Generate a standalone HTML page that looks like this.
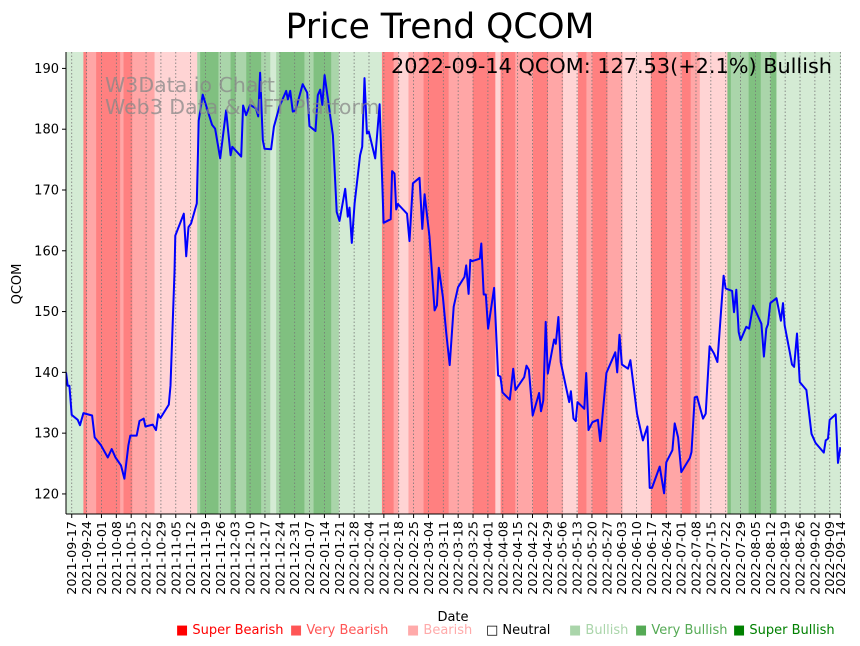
<!DOCTYPE html>
<html><head><meta charset="utf-8"><style>
body{margin:0;background:#fff;font-family:"DejaVu Sans","Liberation Sans",sans-serif;}
#wrap{position:relative;width:860px;height:646px;overflow:hidden;}
svg{position:absolute;left:0;top:0;font-family:"DejaVu Sans","Liberation Sans",sans-serif;}
</style></head><body>
<div id="wrap">
<svg id="chart" width="860" height="646"></svg>
</div>
<script>
// Sentiment bands: [startDay, endDay, level]
const bandStart=[-3,5.5,7.1,11.5,22.8,24.4,28.5,39,59.1,60.5,69.1,74.8,77.2,82.2,89.2,90.8,93.5,96.3,97.9,109.6,113.9,118,122.2,125.8,146.1,151.6,153.9,158.6,165.7,177.5,188.9,199.5,202,208.9,217.2,224.3,231.4,238.4,242.4,245.2,252.3,259.4,272.7,280.4,287.4,291.5,295.8,308.8,310.4,318.8,324.5,329.1,331.9];
const bandEnd=[5.5,7.1,11.5,22.8,24.4,28.5,39,59.1,60.5,69.1,74.8,77.2,82.2,89.2,90.8,93.5,96.3,97.9,109.6,113.9,118,122.2,125.8,146.1,151.6,153.9,158.6,165.7,177.5,188.9,199.5,202,208.9,217.2,224.3,231.4,238.4,242.4,245.2,252.3,259.4,272.7,280.4,287.4,291.5,295.8,308.8,310.4,318.8,324.5,329.1,331.9,363];
const bandLevel=[1,-3,-2,-3,-2,-3,-2,-1,2,3,2,3,2,3,2,2,1,2,3,2,3,3,2,1,-3,-2,-1,-2,-3,-2,-3,-1,-3,-2,-3,-2,-1,-3,-2,-3,-2,-1,-3,-2,-3,-2,-1,3,2,3,2,3,1];
// Price series: days since 2021-09-17 and close price
const priceDays=[-2.7,-1.9,-1.1,0,2.8,3.9,5.5,9.6,10.8,13.8,17,18.8,20.6,23.2,24.8,26.7,27.6,30.6,31.9,33.9,34.7,38.2,39.7,40.7,41.8,45.7,46.5,48.4,48.8,52.8,53.9,55,56.2,58.9,59.8,61.7,66.1,67.5,69.9,72.7,74.8,75.6,79.8,80.7,82.1,84,86.8,87.8,88.7,90,90.8,93.9,95.2,97.8,101,101.8,102.9,104.1,105.4,108.8,110.9,112,114.8,115.9,117,118,119.1,123,124.8,126.1,128.8,130,130.8,131.9,133.2,135.8,136.8,137.9,139,139.9,142.9,145,146.9,150.2,150.9,152,152.8,153.6,157.9,159.1,160.7,163.8,165.1,166.2,168.5,170.9,172,172.9,174.8,176.4,178,179.9,181.9,185,185.8,186.9,187.7,188.7,192.2,192.9,194,195,196.1,198.9,200.8,201.9,202.9,206.3,207.9,209,213.1,214.2,215.3,217.1,220.1,221,222.1,223.2,224.2,227.2,228,229.2,230.3,234.3,235.1,236.3,237.4,238.2,241.4,242.3,243.4,245.2,247.8,248.9,251.8,256,256.9,258,259.1,262,263.1,266.2,269,271.1,272.2,273.3,276.9,279,280,282.9,284,285.6,287.1,291.1,291.9,293.4,294.5,297.3,298.6,300.4,302.5,304.1,307,308,311,311.9,313,314.1,315,317.7,319,320.9,324.8,326,327.1,327.9,329,331.9,334,335,335.8,338.2,339.2,340.2,341.6,342.9,346,348.4,350.3,354.2,355.1,356.2,357,359.8,360.9,362];
const priceVals=[140,137.8,137.8,133,132.2,131.3,133.3,132.9,129.3,128,126,127.4,126,124.7,122.5,128,129.6,129.6,132,132.4,131.1,131.4,130.5,133.1,132.5,134.7,137.8,156.5,162.5,166.1,159.1,163.9,164.5,167.8,181.4,185.7,180.7,180.1,175.2,183.1,175.7,177.1,175.5,183.9,182.3,184,183.4,182.1,189.3,178.2,176.8,176.7,180.4,183.7,186.3,184.9,186.3,182.9,183.1,187.4,186,180.5,179.7,185.6,186.5,184,188.9,179,166.4,164.9,170.2,165.6,167.1,161.3,167.8,175.7,177.1,188.4,179.3,179.6,175.2,184.1,164.6,165.2,173.1,172.7,166.8,167.7,166.1,161.6,171.1,172,163.6,169.3,162.3,150.2,151,157.2,152.4,146.4,141.2,150.8,154,155.7,157.6,152.9,158.5,158.3,158.7,161.2,152.8,152.8,147.2,153.9,139.5,139.3,136.7,135.5,140.6,137.1,139.2,141.1,140.4,132.9,136.6,133.6,135.4,148.3,139.8,145.4,144.7,149.1,141.7,135.1,136.9,132.4,132,135.1,134,139.9,130.5,131.8,132.2,128.7,139.9,143.3,140,146.2,141.3,140.6,142,133.2,128.8,131.1,121,121,124.5,120.1,125.2,127.2,131.6,129.3,123.6,125.9,126.9,135.9,136,132.4,133.2,144.3,143.1,141.7,155.9,153.8,153.4,149.9,153.6,146.6,145.3,147.5,147.2,151,148,142.6,147.2,147.9,151.4,152.2,148.5,151.4,147.7,143.3,141.3,140.9,146.4,138.4,137.1,129.9,128.4,126.8,128.8,129.1,132.2,133.1,125.1,127.7];
const yTicks=[120,130,140,150,160,170,180,190];
const tickLabels=["2021-09-17","2021-09-24","2021-10-01","2021-10-08","2021-10-15","2021-10-22","2021-10-29","2021-11-05","2021-11-12","2021-11-19","2021-11-26","2021-12-03","2021-12-10","2021-12-17","2021-12-24","2021-12-31","2022-01-07","2022-01-14","2022-01-21","2022-01-28","2022-02-04","2022-02-11","2022-02-18","2022-02-25","2022-03-04","2022-03-11","2022-03-18","2022-03-25","2022-04-01","2022-04-08","2022-04-15","2022-04-22","2022-04-29","2022-05-06","2022-05-13","2022-05-20","2022-05-27","2022-06-03","2022-06-10","2022-06-17","2022-06-24","2022-07-01","2022-07-08","2022-07-15","2022-07-22","2022-07-29","2022-08-05","2022-08-12","2022-08-19","2022-08-26","2022-09-02","2022-09-09","2022-09-14"];
const tickDays=[0,7,14,21,28,35,42,49,56,63,70,77,84,91,98,105,112,119,126,133,140,147,154,161,168,175,182,189,196,203,210,217,224,231,238,245,252,259,266,273,280,287,294,301,308,315,322,329,336,343,350,357,362];

const L=66,R=841,T=52,B=514;
const D0=-2.7,D1=362.3,P0=116.7,P1=192.7;
const xS=d=>L+(d-D0)/(D1-D0)*(R-L);
const yS=p=>B-(p-P0)/(P1-P0)*(B-T);
const NS='http://www.w3.org/2000/svg';
const svg=document.getElementById('chart');
function mk(tag,attrs,parent){const e=document.createElementNS(NS,tag);for(const k in attrs)e.setAttribute(k,attrs[k]);(parent||svg).appendChild(e);return e;}
const bandColor={'-3':'#ff8080','-2':'#ffa6a6','-1':'#ffd4d4','0':'#ffffff','1':'#d4ebd4','2':'#aad5aa','3':'#80c080'};

const g=mk('g',{'clip-path':'url(#clip)'});
const cp=mk('clipPath',{id:'clip'});mk('rect',{x:L,y:T,width:R-L,height:B-T},cp);
for(let i=0;i<bandStart.length;i++){
  const r=mk('rect',{x:xS(bandStart[i]),y:T,width:Math.max(0,xS(bandEnd[i])-xS(bandStart[i]))+0.5,height:B-T,fill:bandColor[bandLevel[i]]},g);
  
  
}
for(let i=0;i<tickDays.length;i++){
  const ln=mk('line',{x1:xS(tickDays[i]),x2:xS(tickDays[i]),y1:T,y2:B,stroke:'#777','stroke-width':0.8,'stroke-dasharray':'1.5,2'},g);
  
  
}
// watermark
const wm=mk('text',{x:105,y:92,fill:'#888','fill-opacity':0.75,'font-size':20.5});
wm.textContent='W3Data.io Chart';

const wm2=mk('text',{x:105,y:114,fill:'#888','fill-opacity':0.75,'font-size':20.5});
wm2.textContent='Web3 Data & NFT Platform';


let d='';
for(let i=0;i<priceDays.length;i++)d+=(i?'L':'M')+xS(priceDays[i]).toFixed(1)+','+yS(priceVals[i]).toFixed(1);
const line=mk('path',{d:d,fill:'none',stroke:'#0000ff','stroke-width':2,'stroke-linejoin':'round'},g);



// axes
const ax=mk('line',{x1:L,x2:L,y1:T,y2:B,stroke:'#000','stroke-width':1});

const bx=mk('line',{x1:L,x2:R,y1:B,y2:B,stroke:'#000','stroke-width':1});

for(const v of yTicks){
  mk('line',{x1:L-4,x2:L,y1:yS(v),y2:yS(v),stroke:'#000'});
  const t=mk('text',{x:L-7,y:yS(v)+4.5,'text-anchor':'end','font-size':13});
  t.textContent=v;
  
  
}
for(let i=0;i<tickDays.length;i++){
  const x=xS(tickDays[i]);
  mk('line',{x1:x,x2:x,y1:B,y2:B+4,stroke:'#000'});
  const t=mk('text',{x:0,y:0,'text-anchor':'end','font-size':12.7,transform:`translate(${x+4.5},${B+7}) rotate(-90)`});
  t.textContent=tickLabels[i];
  
  
}
const xt=mk('text',{x:453,y:621,'text-anchor':'middle','font-size':13});xt.textContent='Date';

const yt=mk('text',{x:0,y:0,'text-anchor':'middle','font-size':13,transform:'translate(21,284) rotate(-90)'});yt.textContent='QCOM';

const ti=mk('text',{x:440,y:38,'text-anchor':'middle','font-size':34.5});ti.textContent='Price Trend QCOM';

const an=mk('text',{x:832,y:73,'text-anchor':'end','font-size':20.8});an.textContent='2022-09-14 QCOM: 127.53(+2.1%) Bullish';


const legNames=['Super Bearish','Very Bearish','Bearish','Neutral','Bullish','Very Bullish','Super Bullish'];
const legColors=['#ff0000','#ff5555','#ffaaaa','#000000','#aad5aa','#55aa55','#008000'];
const legX=[176,290,407,486,569,635,733];
for(let i=0;i<legNames.length;i++){
  const t=mk('text',{x:legX[i],y:634,'font-size':13,fill:legColors[i]});
  t.textContent=(i===3?'\u25A1 ':'\u25A0 ')+legNames[i];
  
  
}
</script>
</body></html>
